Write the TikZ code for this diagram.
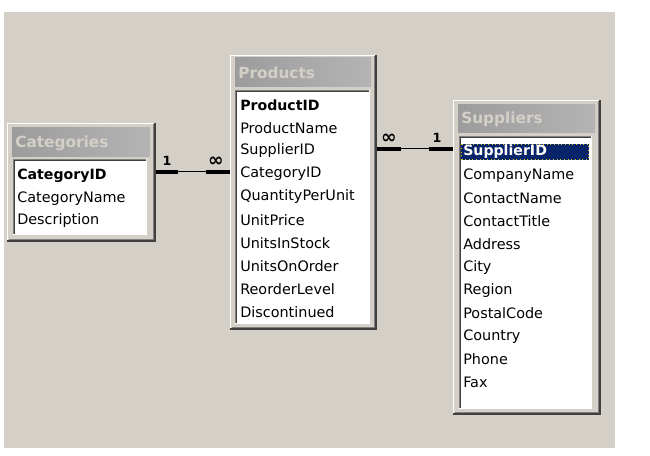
\documentclass[tikz,border=0pt]{standalone}
\usepackage{fontspec}
\setmainfont{DejaVu Sans}
\usetikzlibrary{fit}
\definecolor{winbg}{HTML}{D4D0C8}
\definecolor{dkgray}{HTML}{404040}
\definecolor{mdgray}{HTML}{808080}
\definecolor{navy}{HTML}{0A246A}
\definecolor{titleL}{HTML}{9C9C9C}
\definecolor{titleR}{HTML}{B4B4B4}
\tikzset{
  rowtext/.style={anchor=west, inner sep=0pt, font=\fontsize{10.8}{12}\selectfont, text=black},
  keytext/.style={rowtext, font=\fontsize{10.6}{12}\selectfont\bfseries},
  titletext/.style={anchor=west, inner sep=0pt, font=\fontsize{11.5}{13}\selectfont\bfseries, text=winbg},
  cardlabel/.style={inner sep=0pt, font=\fontsize{9.5}{10}\selectfont\bfseries},
  inflabel/.style={inner sep=0pt, font=\fontsize{14}{14}\selectfont\bfseries},
  thickend/.style={line width=2.4pt, draw=black},
  thinmid/.style={line width=0.75pt, draw=black},
  fitbox/.style={inner sep=0pt, draw=none}
}
\newcommand\dbframe[4]{%
  \fill[winbg] (#1,#2) rectangle (#3,#4);
  \draw[white, line width=0.75pt] (#1+0.5,#4-1) -- (#1+0.5,#2+0.5) -- (#3-1,#2+0.5);
  \draw[dkgray, line width=1.5pt] (#1,#4-1) -- (#3-1,#4-1) -- (#3-1,#2);
  \draw[mdgray, line width=0.75pt] (#1+1.5,#4-2.5) -- (#3-2.5,#4-2.5) -- (#3-2.5,#2+1.5);
}
\newcommand\dblist[4]{%
  \fill[white] (#1,#2) rectangle (#3,#4);
  \draw[mdgray, line width=0.75pt] (#1+0.5,#4) -- (#1+0.5,#2+0.5) -- (#3,#2+0.5);
  \draw[dkgray, line width=0.75pt] (#1+1.5,#4-1) -- (#1+1.5,#2+1.5) -- (#3-1,#2+1.5);
  \draw[white, line width=0.75pt] (#1,#4-0.5) -- (#3-0.5,#4-0.5) -- (#3-0.5,#2);
}
\newcommand\dbtitle[4]{%
  \shade[left color=titleL, right color=titleR] (#1,#2) rectangle (#3,#4);
}
\begin{document}
\begin{tikzpicture}[x=0.75pt,y=-0.75pt]
\useasboundingbox (0,0) rectangle (650,456);
\fill[winbg] (4,12) rectangle (615,448);

% ---------- Categories ----------
\dbframe{7}{123}{156}{242}
\dbtitle{12}{128}{150}{157}
\dblist{13}{159}{147}{235}
\node[titletext] (cattitle) at (15,143) {Categories};
\node[keytext] (catid) at (17,176) {CategoryID};
\node[rowtext] (catname) at (17,198.5) {CategoryName};
\node[rowtext] (catdesc) at (17,221) {Description};
\node[fitbox, fit={(7,123) (156,242)}] (cat) {};

% ---------- Products ----------
\dbframe{230}{55}{377}{330}
\dbtitle{235}{58}{371}{87}
\dblist{235}{90}{370}{324}
\node[titletext] (prodtitle) at (238,73) {Products};
\node[keytext] (p1) at (240,105) {ProductID};
\node[rowtext] (p2) at (240,128) {ProductName};
\node[rowtext] (p3) at (240,151) {SupplierID};
\node[rowtext] (p4) at (240,174) {CategoryID};
\node[rowtext] (p5) at (240,197) {QuantityPerUnit};
\node[rowtext] (p6) at (240,220) {UnitPrice};
\node[rowtext] (p7) at (240,243) {UnitsInStock};
\node[rowtext] (p8) at (240,266) {UnitsOnOrder};
\node[rowtext] (p9) at (240,289) {ReorderLevel};
\node[rowtext] (p10) at (240,312) {Discontinued};
\node[fitbox, fit={(230,55) (377,330)}] (prod) {};

% ---------- Suppliers ----------
\dbframe{453}{100}{601}{415}
\dbtitle{458}{105}{595}{133}
\dblist{459}{136}{592}{409}
\node[titletext] (suptitle) at (461,119) {Suppliers};
\fill[navy] (461,144) rectangle (589,160);
\draw[yellow!80!black, line width=0.75pt, dotted] (461.5,144.5) rectangle (588.5,159.5);
\node[keytext, text=white] (s1) at (463,152) {SupplierID};
\node[rowtext] (s2) at (463,175.5) {CompanyName};
\node[rowtext] (s3) at (463,198.5) {ContactName};
\node[rowtext] (s4) at (463,221.5) {ContactTitle};
\node[rowtext] (s5) at (463,244.5) {Address};
\node[rowtext] (s6) at (463,267.5) {City};
\node[rowtext] (s7) at (463,290.5) {Region};
\node[rowtext] (s8) at (463,313.5) {PostalCode};
\node[rowtext] (s9) at (463,336.5) {Country};
\node[rowtext] (s10) at (463,359.5) {Phone};
\node[rowtext] (s11) at (463,382.5) {Fax};
\node[fitbox, fit={(453,100) (601,415)}] (sup) {};

% ---------- Relationship Categories - Products ----------
\coordinate (cpA) at (cat.east |- 0,172);
\coordinate (cpB) at (prod.west |- 0,172);
\draw[thickend] (cpA) -- ++(22,0);
\draw[thinmid] ([xshift=21pt*0.75]cpA) -- ([xshift=-23pt*0.75]cpB);
\draw[thickend] (cpB) -- ++(-24,0);
\node[cardlabel] (cp1) at (167,161) {1};
\node[inflabel] (cpn) at (216,162) {∞};

% ---------- Relationship Products - Suppliers ----------
\coordinate (psA) at (prod.east |- 0,149);
\coordinate (psB) at (sup.west |- 0,149);
\draw[thickend] (psA) -- ++(24,0);
\draw[thinmid] ([xshift=23pt*0.75]psA) -- ([xshift=-23pt*0.75]psB);
\draw[thickend] (psB) -- ++(-24,0);
\node[inflabel] (psn) at (389,139) {∞};
\node[cardlabel] (ps1) at (437,138) {1};
\end{tikzpicture}
\end{document}
